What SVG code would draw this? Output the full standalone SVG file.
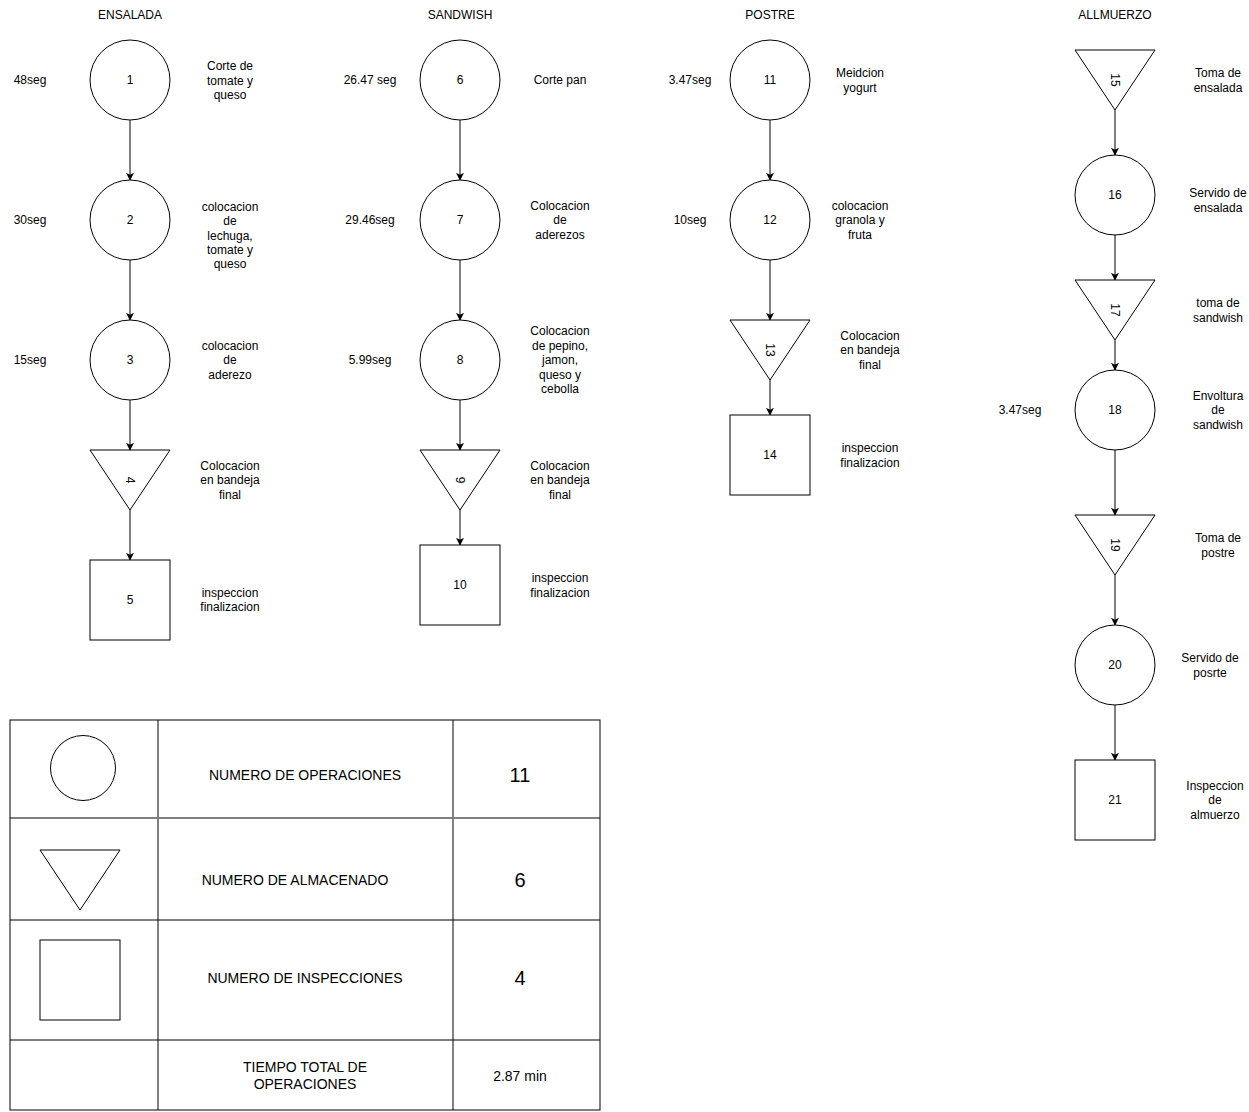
<svg xmlns="http://www.w3.org/2000/svg" width="1249" height="1112" viewBox="0 0 1249 1112">
<style>
text{font-family:"Liberation Sans",Arial,sans-serif;font-size:12px;fill:#000;text-anchor:middle;dominant-baseline:central}
.s{fill:#fff;stroke:#000;stroke-width:1}
.c{stroke:#000;stroke-width:1;fill:none;marker-end:url(#ah)}
.t{font-size:14px}
.big{font-size:20px}
.grid{stroke:#808080;stroke-width:2;fill:none}
</style>
<defs>
<marker id="ah" viewBox="0 0 10 10" refX="9" refY="5" markerWidth="8" markerHeight="8" markerUnits="userSpaceOnUse" orient="auto">
<path d="M0,0 L10,5 L0,10 L2.5,5 z" fill="#000"/>
</marker>
</defs>
<rect width="1249" height="1112" fill="#fff"/>
<g id="headers">
<text x="130" y="15">ENSALADA</text>
<text x="460" y="15">SANDWISH</text>
<text x="770" y="15">POSTRE</text>
<text x="1115" y="15">ALLMUERZO</text>
</g>
<g id="connectors">
<line class="c" x1="130" y1="120" x2="130" y2="180"/>
<line class="c" x1="130" y1="260" x2="130" y2="320"/>
<line class="c" x1="130" y1="400" x2="130" y2="450"/>
<line class="c" x1="130" y1="510" x2="130" y2="560"/>
<line class="c" x1="460" y1="120" x2="460" y2="180"/>
<line class="c" x1="460" y1="260" x2="460" y2="320"/>
<line class="c" x1="460" y1="400" x2="460" y2="450"/>
<line class="c" x1="460" y1="510" x2="460" y2="545"/>
<line class="c" x1="770" y1="120" x2="770" y2="180"/>
<line class="c" x1="770" y1="260" x2="770" y2="320"/>
<line class="c" x1="770" y1="380" x2="770" y2="415"/>
<line class="c" x1="1115" y1="110" x2="1115" y2="155"/>
<line class="c" x1="1115" y1="235" x2="1115" y2="280"/>
<line class="c" x1="1115" y1="340" x2="1115" y2="370"/>
<line class="c" x1="1115" y1="450" x2="1115" y2="515"/>
<line class="c" x1="1115" y1="575" x2="1115" y2="625"/>
<line class="c" x1="1115" y1="705" x2="1115" y2="760"/>
</g>
<g id="n1"><circle class="s" cx="130" cy="80" r="40"/><text x="130" y="80">1</text></g>
<g id="n2"><circle class="s" cx="130" cy="220" r="40"/><text x="130" y="220">2</text></g>
<g id="n3"><circle class="s" cx="130" cy="360" r="40"/><text x="130" y="360">3</text></g>
<g id="n4"><polygon class="s" points="90,450 170,450 130,510"/><text transform="translate(130,480) rotate(90)">4</text></g>
<g id="n5"><rect class="s" x="90" y="560" width="80" height="80"/><text x="130" y="600">5</text></g>
<g id="n6"><circle class="s" cx="460" cy="80" r="40"/><text x="460" y="80">6</text></g>
<g id="n7"><circle class="s" cx="460" cy="220" r="40"/><text x="460" y="220">7</text></g>
<g id="n8"><circle class="s" cx="460" cy="360" r="40"/><text x="460" y="360">8</text></g>
<g id="n9"><polygon class="s" points="420,450 500,450 460,510"/><text transform="translate(460,480) rotate(90)">9</text></g>
<g id="n10"><rect class="s" x="420" y="545" width="80" height="80"/><text x="460" y="585">10</text></g>
<g id="n11"><circle class="s" cx="770" cy="80" r="40"/><text x="770" y="80">11</text></g>
<g id="n12"><circle class="s" cx="770" cy="220" r="40"/><text x="770" y="220">12</text></g>
<g id="n13"><polygon class="s" points="730,320 810,320 770,380"/><text transform="translate(770,350) rotate(90)">13</text></g>
<g id="n14"><rect class="s" x="730" y="415" width="80" height="80"/><text x="770" y="455">14</text></g>
<g id="n15"><polygon class="s" points="1075,50 1155,50 1115,110"/><text transform="translate(1115,80) rotate(90)">15</text></g>
<g id="n16"><circle class="s" cx="1115" cy="195" r="40"/><text x="1115" y="195">16</text></g>
<g id="n17"><polygon class="s" points="1075,280 1155,280 1115,340"/><text transform="translate(1115,310) rotate(90)">17</text></g>
<g id="n18"><circle class="s" cx="1115" cy="410" r="40"/><text x="1115" y="410">18</text></g>
<g id="n19"><polygon class="s" points="1075,515 1155,515 1115,575"/><text transform="translate(1115,545) rotate(90)">19</text></g>
<g id="n20"><circle class="s" cx="1115" cy="665" r="40"/><text x="1115" y="665">20</text></g>
<g id="n21"><rect class="s" x="1075" y="760" width="80" height="80"/><text x="1115" y="800">21</text></g>
<g id="times">
<text x="30" y="80">48seg</text>
<text x="30" y="220">30seg</text>
<text x="30" y="360">15seg</text>
<text x="370" y="80">26.47 seg</text>
<text x="370" y="220">29.46seg</text>
<text x="370" y="360">5.99seg</text>
<text x="690" y="80">3.47seg</text>
<text x="690" y="220">10seg</text>
<text x="1020" y="410">3.47seg</text>
</g>
<g id="descriptions">
<text x="230" y="66">Corte de</text><text x="230" y="80.5">tomate y</text><text x="230" y="95">queso</text>
<text x="230" y="207">colocacion</text><text x="230" y="221">de</text><text x="230" y="235.5">lechuga,</text><text x="230" y="250">tomate y</text><text x="230" y="264">queso</text>
<text x="230" y="346">colocacion</text><text x="230" y="360">de</text><text x="230" y="375">aderezo</text>
<text x="230" y="466">Colocacion</text><text x="230" y="480">en bandeja</text><text x="230" y="495">final</text>
<text x="230" y="593">inspeccion</text><text x="230" y="607">finalizacion</text>
<text x="560" y="80">Corte pan</text>
<text x="560" y="206">Colocacion</text><text x="560" y="220">de</text><text x="560" y="235">aderezos</text>
<text x="560" y="331">Colocacion</text><text x="560" y="346">de pepino,</text><text x="560" y="360">jamon,</text><text x="560" y="375">queso y</text><text x="560" y="389">cebolla</text>
<text x="560" y="466">Colocacion</text><text x="560" y="480">en bandeja</text><text x="560" y="495">final</text>
<text x="560" y="578">inspeccion</text><text x="560" y="593">finalizacion</text>
<text x="860" y="73">Meidcion</text><text x="860" y="88">yogurt</text>
<text x="860" y="206">colocacion</text><text x="860" y="220">granola y</text><text x="860" y="235">fruta</text>
<text x="870" y="336">Colocacion</text><text x="870" y="350">en bandeja</text><text x="870" y="365">final</text>
<text x="870" y="448">inspeccion</text><text x="870" y="463">finalizacion</text>
<text x="1218" y="73">Toma de</text><text x="1218" y="88">ensalada</text>
<text x="1218" y="193">Servido de</text><text x="1218" y="208">ensalada</text>
<text x="1218" y="303">toma de</text><text x="1218" y="318">sandwish</text>
<text x="1218" y="396">Envoltura</text><text x="1218" y="410">de</text><text x="1218" y="425">sandwish</text>
<text x="1218" y="538">Toma de</text><text x="1218" y="553">postre</text>
<text x="1210" y="658">Servido de</text><text x="1210" y="673">posrte</text>
<text x="1215" y="786">Inspeccion</text><text x="1215" y="800">de</text><text x="1215" y="815">almuerzo</text>
</g>
<g id="legend">
<line class="grid" x1="158" y1="720" x2="158" y2="1110"/>
<line class="grid" x1="453" y1="720" x2="453" y2="1110"/>
<line class="grid" x1="10" y1="818" x2="600" y2="818"/>
<line x1="10" y1="920" x2="600" y2="920" stroke="#000" stroke-width="1"/>
<line x1="10" y1="1040" x2="600" y2="1040" stroke="#000" stroke-width="1"/>
<rect x="10" y="720" width="590" height="390" fill="none" stroke="#000" stroke-width="1"/>
<circle class="s" cx="83" cy="768" r="32.5"/>
<polygon class="s" points="40,850 120,850 80,910"/>
<rect class="s" x="40" y="940" width="80" height="80"/>
<text class="t" x="305" y="775">NUMERO DE OPERACIONES</text>
<text class="big" x="520" y="775">11</text>
<text class="t" x="295" y="880">NUMERO DE ALMACENADO</text>
<text class="big" x="520" y="880">6</text>
<text class="t" x="305" y="978">NUMERO DE INSPECCIONES</text>
<text class="big" x="520" y="978">4</text>
<text class="t" x="305" y="1067">TIEMPO TOTAL DE</text>
<text class="t" x="305" y="1084">OPERACIONES</text>
<text class="t" x="520" y="1076">2.87 min</text>
</g>
</svg>
